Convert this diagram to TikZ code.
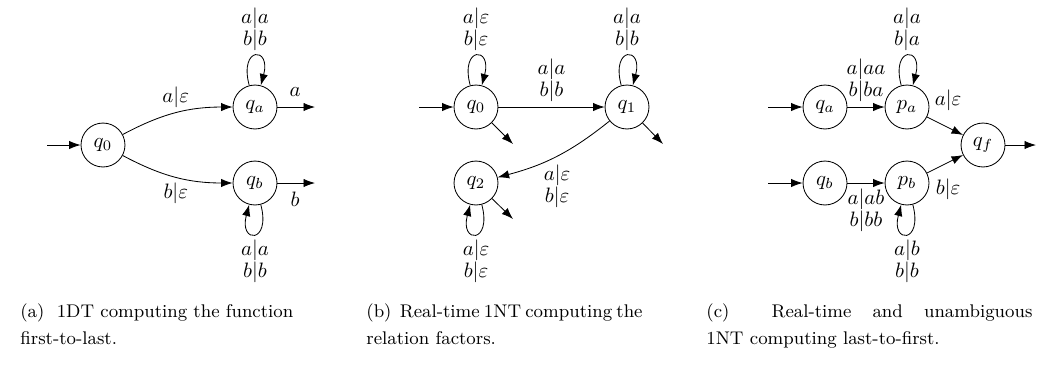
\documentclass[tikz,border=0pt]{standalone}
\usetikzlibrary{arrows.meta}
\begin{document}
\begin{tikzpicture}[x=0.48pt,y=0.48pt,
  >={Latex[length=5.5pt,width=4pt]},
  state/.style={draw,circle,minimum size=21.1pt,inner sep=0pt,font=\fontsize{10}{12}\selectfont},
  lab/.style={align=center,font=\fontsize{10}{10.5}\selectfont,inner sep=2.5pt},
  every loop/.style={->,looseness=1,min distance=19.5pt},
  captxt/.style={align=left,inner sep=0pt,font=\fontsize{8.8}{12.5}\selectfont}]
\useasboundingbox (0,0) rectangle (1055,-364);
% ---------- (a)
\node[state] (a0) at (103,-145) {$q_0$};
\node[state] (aa) at (255,-107) {$q_a$};
\node[state] (ab) at (255,-183) {$q_b$};
\coordinate (ain) at (47,-145);
\coordinate (aoa) at (315,-107);
\coordinate (aob) at (315,-183);
\draw[->] (ain) -- (a0);
\draw[->] (a0) to[bend left=14] node[lab,above]{$a|\varepsilon$} (aa);
\draw[->] (a0) to[bend right=14] node[lab,below]{$b|\varepsilon$} (ab);
\draw[->] (aa) -- node[lab,above,pos=0.47]{$\vphantom{|}a$} (aoa);
\draw[->] (ab) -- node[lab,below,pos=0.47,yshift=-1pt]{$\vphantom{|}b$} (aob);
\draw (aa) edge[loop above] node[lab,above]{$a|a$\\$b|b$} ();
\draw (ab) edge[loop below] node[lab,below]{$a|a$\\$b|b$} ();
% ---------- (b)
\node[state] (b0) at (476,-107) {$q_0$};
\node[state] (b1) at (627,-107) {$q_1$};
\node[state] (b2) at (476,-183) {$q_2$};
\coordinate (bin) at (419,-107);
\coordinate (bo0) at (513,-144);
\coordinate (bo1) at (663,-144);
\coordinate (bo2) at (513,-219);
\draw[->] (bin) -- (b0);
\draw[->] (b0) -- node[lab,above]{$a|a$\\$b|b$} (b1);
\draw[->] (b1) to[bend left=12] node[lab,below=1.5pt]{$a|\varepsilon$\\$b|\varepsilon$} (b2);
\draw[->] (b0) -- (bo0);
\draw[->] (b1) -- (bo1);
\draw[->] (b2) -- (bo2);
\draw (b0) edge[loop above] node[lab,above]{$a|\varepsilon$\\$b|\varepsilon$} ();
\draw (b1) edge[loop above] node[lab,above]{$a|a$\\$b|b$} ();
\draw (b2) edge[loop below] node[lab,below]{$a|\varepsilon$\\$b|\varepsilon$} ();
% ---------- (c)
\node[state] (cqa) at (825,-107) {$q_a$};
\node[state] (cpa) at (907,-107) {$p_a$};
\node[state] (cqb) at (825,-183) {$q_b$};
\node[state] (cpb) at (907,-183) {$p_b$};
\node[state] (cqf) at (983,-145) {$q_f$};
\coordinate (cina) at (768,-107);
\coordinate (cinb) at (768,-183);
\coordinate (cout) at (1036,-145);
\draw[->] (cina) -- (cqa);
\draw[->] (cinb) -- (cqb);
\draw[->] (cqa) -- node[lab,above]{$a|aa$\\$b|ba$} (cpa);
\draw[->] (cqb) -- node[lab,below]{$a|ab$\\$b|bb$} (cpb);
\draw[->] (cpa) -- node[lab,anchor=south,yshift=4.5pt,xshift=1.5pt]{$a|\varepsilon$} (cqf);
\draw[->] (cpb) -- node[lab,anchor=north,yshift=-4.5pt,xshift=1.5pt]{$b|\varepsilon$} (cqf);
\draw[->] (cqf) -- (cout);
\draw (cpa) edge[loop above] node[lab,above]{$a|a$\\$b|a$} ();
\draw (cpb) edge[loop below] node[lab,below]{$a|b$\\$b|b$} ();
% ---------- captions
\node[captxt,anchor=base west] (capa) at (20,-344) {\makebox[131pt][s]{(a)\ \ 1DT computing the function}\\first-to-last.};
\node[captxt,anchor=base west] (capb) at (366,-344) {\makebox[131.5pt][s]{(b)\ \ Real-time 1NT computing the}\\relation factors.};
\node[captxt,anchor=base west] (capc) at (706,-344) {\makebox[156.5pt][s]{(c)\ \ Real-time and unambiguous}\\1NT computing last-to-first.};
\end{tikzpicture}
\end{document}
